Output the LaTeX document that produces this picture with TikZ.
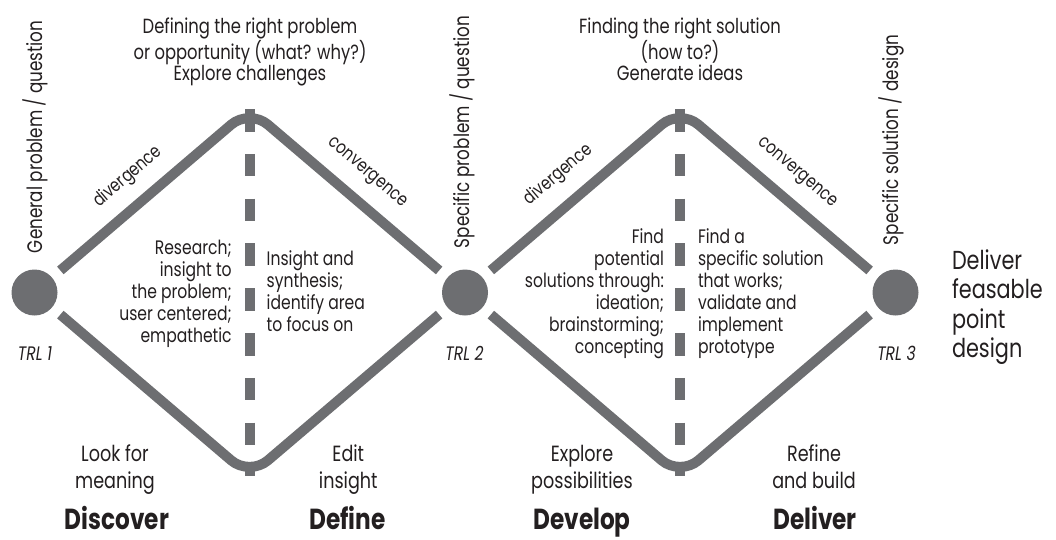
\documentclass[tikz,border=0pt]{standalone}
\usepackage{fontspec}
\setmainfont{Poppins}[FakeStretch=0.8]
\usetikzlibrary{calc}
\definecolor{lgray}{RGB}{109,110,113}
\definecolor{ink}{RGB}{35,31,32}
\begin{document}
\begin{tikzpicture}[x=1pt,y=-1pt,
  stage/.style={circle,fill=lgray,minimum size=46pt,inner sep=0pt,outer sep=11pt},
  edge/.style={draw=lgray,line width=10pt,rounded corners=24pt},
  midline/.style={draw=lgray,line width=10pt,dash pattern=on 22.5pt off 22.3pt},
  txt/.style={text=ink,inner sep=0pt,outer sep=0pt},
  body/.style={txt,font=\fontsize{19.5}{22}\selectfont},
  toptxt/.style={txt,font=\fontsize{20.5}{21}\selectfont,align=center,anchor=base},
  vert/.style={txt,font=\fontsize{21}{24}\selectfont,rotate=90,anchor=base west},
  slopetxt/.style={txt,font=\fontsize{18.5}{20}\selectfont},
  trl/.style={txt,font=\fontsize{19.5}{22}\selectfont\itshape,anchor=base},
  phase/.style={txt,font=\fontsize{22}{26.5}\selectfont,align=center,anchor=base},
  title/.style={txt,font=\fontsize{29}{34}\selectfont\bfseries,anchor=base},
  result/.style={txt,font=\fontsize{26}{29.5}\selectfont,align=left,anchor=base west}
]
\useasboundingbox (0,0) rectangle (1056,539);

% stage nodes
\node[stage] (c1) at (34.5,292.5) {};
\node[stage] (c2) at (465,292.5) {};
\node[stage] (c3) at (895.5,292.5) {};
\coordinate (t1) at (249.5,109);
\coordinate (b1) at (249.5,476);
\coordinate (t2) at (680,109);
\coordinate (b2) at (680,476);

% dashed middle lines
\draw[midline] (t1) -- (b1);
\draw[midline] (t2) -- (b2);

% diamonds
\draw[edge] (c1) -- (t1) -- (c2);
\draw[edge] (c1) -- (b1) -- (c2);
\draw[edge] (c2) -- (t2) -- (c3);
\draw[edge] (c2) -- (b2) -- (c3);

% top texts (anchored at the baseline of the last line)
\node[toptxt] (top1) at (250,80) {Defining the right problem\\or opportunity (what? why?)\\Explore challenges};
\node[toptxt] (top2) at (680,80) {Finding the right solution\\(how to?)\\Generate ideas};

% vertical labels
\node[vert] (gq) at (42,253) {General problem / question};
\node[vert] (sq) at (469.5,248) {Specific problem / question};
\node[vert] (sd) at (898,245) {Specific solution / design};

% sloped labels
\node[slopetxt,rotate=40.5] (dv1) at (128,177) {divergence};
\node[slopetxt,rotate=-40.5] (cv1) at (366.7,173.3) {convergence};
\node[slopetxt,rotate=40.5] (dv2) at (558.3,175) {divergence};
\node[slopetxt,rotate=-40.5] (cv2) at (796.7,173.3) {convergence};

% inner texts
\node[body,align=right,anchor=base east] (res) at (231.7,342) {Research;\\insight to\\the problem;\\user centered;\\empathetic};
\node[body,align=left,anchor=base west] (ins) at (266.7,331) {Insight and\\synthesis;\\identify area\\to focus on};
\node[body,align=right,anchor=base east] (fpot) at (664,353) {Find\\potential\\solutions through:\\ideation;\\brainstorming;\\concepting};
\node[body,align=left,anchor=base west] (fspec) at (698,353) {Find a\\specific solution\\that works;\\validate and\\implement\\prototype};

% TRL labels
\node[trl] (trl1) at (35,360) {TRL 1};
\node[trl] (trl2) at (464.5,360) {TRL 2};
\node[trl] (trl3) at (896.5,360) {TRL 3};

% phase descriptions
\node[phase] (p1) at (115,488.2) {Look for\\meaning};
\node[phase] (p2) at (348.3,488.2) {Edit\\insight};
\node[phase] (p3) at (582,488.2) {Explore\\possibilities};
\node[phase] (p4) at (814,488.2) {Refine\\and build};

% phase titles
\node[title] (h1) at (117,529.5) {Discover};
\node[title] (h2) at (347.5,529.5) {Define};
\node[title] (h3) at (582,529.5) {Develop};
\node[title] (h4) at (815,529.5) {Deliver};

% result
\node[result] (out) at (952,357.5) {Deliver\\feasable\\point\\design};
\end{tikzpicture}
\end{document}
